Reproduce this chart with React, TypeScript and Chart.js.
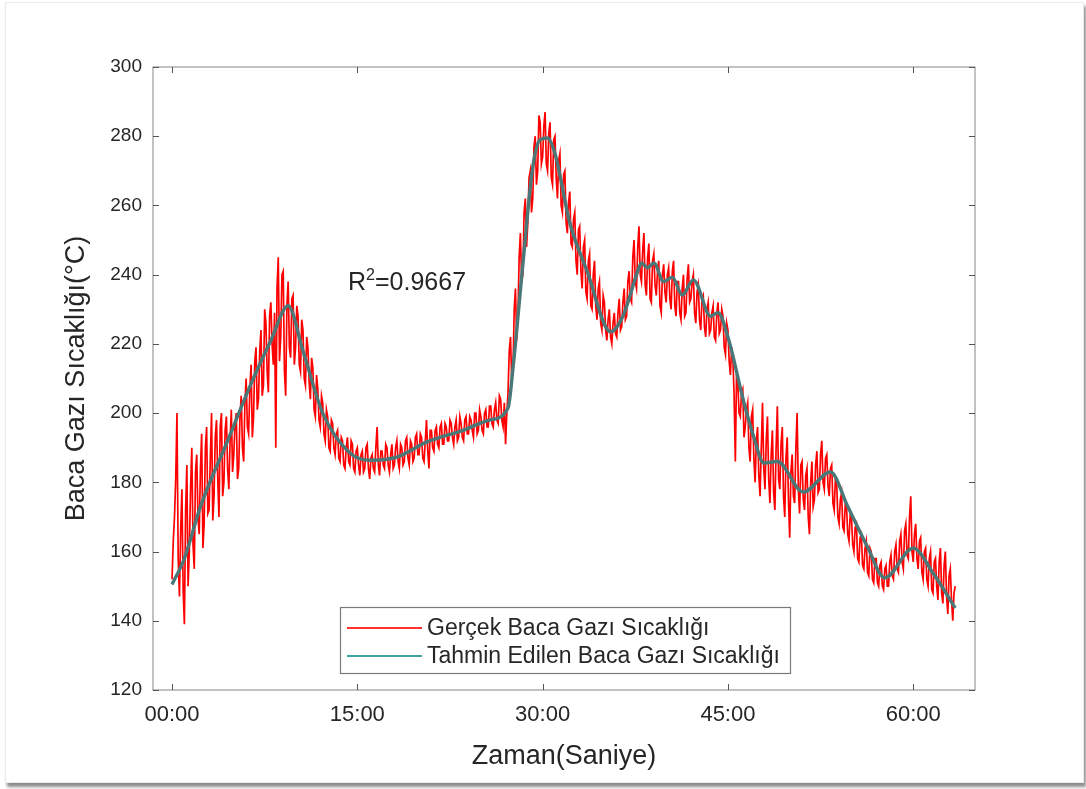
import React, { useEffect, useRef } from "react";
import { Chart, registerables } from "chart.js";

Chart.register(...registerables);

// ---------- data ----------
// measured flue-gas temperature, one sample every 0.1 min (rows = one minute)
const SAMPLE_STEP_MIN = 0.1;
const actualTemps: number[] = [
  152, 163, 170, 181, 200, 158, 147, 166, 178, 149,
  139, 172, 185, 150, 160, 178, 190, 162, 155, 183,
  188, 170, 165, 184, 194, 161, 168, 190, 196, 171,
  172, 187, 200, 169, 176, 193, 198, 181, 170, 196,
  200, 176, 180, 195, 199, 184, 178, 192, 201, 183,
  188, 197, 200, 181, 184, 199, 205, 190, 186, 203,
  210, 196, 194, 207, 214, 193, 199, 215, 219, 201,
  204, 218, 224, 205, 208, 230, 226, 212, 206, 228,
  232, 220, 214, 229, 190, 236, 245, 215, 222, 240,
  241, 212, 205, 231, 238, 219, 216, 233, 234, 214,
  219, 231, 228, 214, 212, 227, 224, 210, 208, 222,
  219, 209, 204, 216, 213, 201, 199, 211, 207, 198,
  196, 205, 203, 194, 192, 201, 199, 190, 189, 198,
  197, 190, 188, 194, 195, 187, 186, 193, 192, 185,
  184, 190, 193, 186, 185, 192, 191, 184, 183, 189,
  190, 185, 182, 188, 189, 183, 184, 190, 191, 184,
  181, 187, 188, 184, 183, 190, 196, 185, 182, 189,
  189, 185, 184, 191, 190, 185, 183, 188, 191, 184,
  185, 190, 192, 186, 184, 191, 190, 185, 186, 192,
  193, 187, 185, 192, 191, 186, 187, 193, 194, 188,
  188, 194, 193, 187, 186, 192, 198, 189, 184, 195,
  195, 190, 189, 195, 196, 191, 190, 196, 197, 191,
  191, 197, 196, 192, 192, 198, 197, 193, 191, 196,
  198, 192, 193, 199, 197, 193, 192, 198, 199, 194,
  194, 199, 198, 195, 193, 200, 200, 194, 195, 201,
  199, 195, 194, 200, 201, 196, 196, 202, 202, 197,
  196, 201, 203, 198, 197, 205, 204, 198, 196, 203,
  191, 200, 206, 218, 222, 209, 212, 230, 236, 221,
  228, 245, 252, 238, 240, 258, 262, 248, 255, 268,
  270, 258, 262, 277, 280, 266, 270, 286, 284, 272,
  274, 283, 287, 272, 270, 281, 284, 268, 266, 279,
  280, 268, 262, 273, 275, 260, 258, 269, 270, 255,
  252, 261, 264, 249, 248, 256, 258, 244, 240, 253,
  254, 241, 236, 248, 250, 235, 233, 244, 246, 231,
  230, 240, 244, 231, 227, 236, 238, 226, 224, 234,
  232, 224, 221, 227, 230, 222, 220, 226, 229, 223,
  222, 229, 233, 224, 225, 232, 236, 227, 228, 238,
  241, 233, 232, 245, 250, 238, 236, 248, 254, 240,
  238, 247, 252, 237, 234, 245, 249, 233, 232, 244,
  246, 237, 234, 241, 244, 231, 229, 240, 243, 235,
  232, 240, 242, 233, 230, 241, 244, 231, 228, 238,
  238, 229, 227, 236, 240, 228, 229, 239, 243, 232,
  233, 238, 240, 229, 226, 235, 237, 227, 224, 233,
  234, 225, 222, 230, 232, 223, 224, 229, 231, 222,
  221, 229, 232, 223, 224, 230, 228, 219, 217, 226,
  224, 215, 211, 219, 216, 205, 186, 212, 209, 200,
  199, 206, 207, 193, 196, 201, 203, 190, 186, 199,
  201, 187, 180, 192, 196, 182, 176, 190, 203, 184,
  178, 192, 199, 181, 174, 188, 195, 177, 172, 190,
  202, 181, 178, 191, 196, 176, 170, 187, 193, 175,
  164, 183, 188, 176, 174, 190, 200, 178, 171, 185,
  186, 175, 172, 182, 184, 170, 165, 180, 186, 173,
  175, 185, 189, 177, 178, 188, 192, 180, 178, 187,
  188, 179, 176, 184, 185, 174, 172, 181, 180, 170,
  168, 175, 177, 167, 166, 174, 173, 165, 163, 171,
  170, 162, 160, 167, 168, 158, 157, 164, 165, 156,
  155, 161, 163, 154, 153, 161, 160, 152, 151, 158,
  158, 151, 150, 156, 157, 150, 149, 155, 156, 150,
  150, 157, 159, 153, 152, 160, 162, 155, 154, 163,
  165, 157, 155, 166, 168, 159, 158, 170, 176, 160,
  157, 165, 168, 158, 155, 163, 164, 154, 152, 160,
  161, 152, 150, 158, 160, 149, 148, 157, 158, 150,
  146, 157, 161, 148, 145, 156, 160, 147, 142, 153,
  155, 146, 140, 148, 150,
];

// predicted flue-gas temperature (minutes, °C)
const predTimes: number[] = [
  0, 1, 2.3, 4.5, 6.4, 8.0, 9.4, 10.6, 12.2, 14.4, 16.1, 18.2, 20.6, 23.6, 25.7,
  27.2, 27.6, 28.4, 29.2, 29.8, 30.4, 31.0, 32.2, 33.6, 35.5, 36.5, 37.7, 38.0,
  38.5, 39.0, 39.8, 40.5, 41.3, 42.2, 43.6, 44.2, 45.0, 46.3, 47.1, 47.9, 49.0,
  51.1, 53.3, 54.7, 56.3, 57.7, 60.0, 61.6, 63.4,
];
const predTemps: number[] = [
  150.5, 158, 173, 192, 208.5, 221, 231, 218, 200, 188.5, 186.4, 187.3, 191.6,
  195.1, 198, 201.5, 213, 243, 271, 279, 279.5, 275, 255, 241, 223.5, 228, 241,
  243.4, 242, 243.4, 238, 239.3, 234.1, 238.5, 228, 229, 222, 203, 193, 185.6,
  186, 177.2, 183, 173, 161.3, 152.4, 161, 153.8, 143.7,
];

const xTickValues: number[] = [0, 15, 30, 45, 60];
const xTickLabels: string[] = ["00:00", "15:00", "30:00", "45:00", "60:00"];
const yTickValues: number[] = [120, 140, 160, 180, 200, 220, 240, 260, 280, 300];
const seriesLabels: string[] = [
  "Gerçek Baca Gazı Sıcaklığı",
  "Tahmin Edilen Baca Gazı Sıcaklığı",
];
const xAxisTitle = "Zaman(Saniye)";
const yAxisTitle = "Baca Gazı Sıcaklığı(°C)";
const r2Value = "0.9667";
const r2AnchorX = 14.25; // minutes
const r2AnchorY = 235.6; // °C (baseline)

// ---------- style ----------
const FONT = "'Liberation Sans', Arial, Helvetica, sans-serif";
const TEXT = "#262626";
const RED = "#ff0000";
const TEAL_PLOT = "#4a7878";
const TEAL_LEGEND = "#3fa3a3";

const actualPoints = actualTemps.map((v, i) => ({ x: i * SAMPLE_STEP_MIN, y: v }));
const predPoints = predTimes.map((t, i) => ({ x: t, y: predTemps[i] }));

const matlabDecor = {
  id: "matlabDecor",
  afterDatasetsDraw(chart: any) {
    const { ctx, chartArea: a, scales } = chart;
    const xs = scales.x;
    const ys = scales.y;
    ctx.save();
    // box
    ctx.strokeStyle = "#9a9a9a";
    ctx.lineWidth = 1.2;
    ctx.strokeRect(a.left, a.top, a.right - a.left, a.bottom - a.top);
    // inward ticks on all sides
    ctx.strokeStyle = "#555";
    ctx.lineWidth = 1;
    const tl = 6;
    ctx.beginPath();
    xTickValues.forEach((v) => {
      const px = Math.round(xs.getPixelForValue(v)) + 0.5;
      ctx.moveTo(px, a.bottom);
      ctx.lineTo(px, a.bottom - tl);
      ctx.moveTo(px, a.top);
      ctx.lineTo(px, a.top + tl);
    });
    yTickValues.forEach((v) => {
      const py = Math.round(ys.getPixelForValue(v)) + 0.5;
      ctx.moveTo(a.left, py);
      ctx.lineTo(a.left + tl, py);
      ctx.moveTo(a.right, py);
      ctx.lineTo(a.right - tl, py);
    });
    ctx.stroke();

    // axis titles
    ctx.fillStyle = TEXT;
    ctx.font = `27px ${FONT}`;
    ctx.textAlign = "center";
    ctx.textBaseline = "middle";
    ctx.fillText(xAxisTitle, (a.left + a.right) / 2, 757);
    ctx.save();
    ctx.translate(77, (a.top + a.bottom) / 2);
    ctx.rotate(-Math.PI / 2);
    ctx.fillText(yAxisTitle, 0, 0);
    ctx.restore();

    // R^2 annotation
    const rx = xs.getPixelForValue(r2AnchorX);
    const ry = ys.getPixelForValue(r2AnchorY);
    ctx.textAlign = "left";
    ctx.textBaseline = "alphabetic";
    ctx.font = `25px ${FONT}`;
    ctx.fillText("R", rx, ry);
    let cx = rx + ctx.measureText("R").width;
    ctx.font = `16px ${FONT}`;
    ctx.fillText("2", cx, ry - 10);
    cx += ctx.measureText("2").width;
    ctx.font = `25px ${FONT}`;
    ctx.fillText("=" + r2Value, cx, ry);

    // legend
    const lx = 340, ly = 607, lw = 450, lh = 66;
    ctx.fillStyle = "#ffffff";
    ctx.fillRect(lx, ly, lw, lh);
    ctx.strokeStyle = "#7a7a7a";
    ctx.lineWidth = 1.2;
    ctx.strokeRect(lx + 0.5, ly + 0.5, lw, lh);
    const rows = [
      { color: "#ff3030", label: seriesLabels[0], y: ly + 21 },
      { color: TEAL_LEGEND, label: seriesLabels[1], y: ly + 49 },
    ];
    ctx.font = `23px ${FONT}`;
    ctx.textBaseline = "middle";
    rows.forEach((r) => {
      ctx.strokeStyle = r.color;
      ctx.lineWidth = 2.2;
      ctx.beginPath();
      ctx.moveTo(lx + 7, r.y);
      ctx.lineTo(lx + 82, r.y);
      ctx.stroke();
      ctx.fillStyle = TEXT;
      ctx.fillText(r.label, lx + 87, r.y + 1);
    });
    ctx.restore();
  },
};

function FlueGasChart() {
  const ref = useRef<HTMLCanvasElement | null>(null);
  useEffect(() => {
    if (!ref.current) return;
    const chart = new Chart(ref.current, {
      type: "line",
      data: {
        datasets: [
          {
            label: seriesLabels[1],
            data: predPoints,
            borderColor: TEAL_PLOT,
            borderWidth: 3.4,
            pointRadius: 0,
            cubicInterpolationMode: "monotone",
            order: 0,
          },
          {
            label: seriesLabels[0],
            data: actualPoints,
            borderColor: RED,
            borderWidth: 1.7,
            pointRadius: 0,
            tension: 0,
            order: 1,
          },
        ],
      },
      options: {
        animation: false,
        responsive: false,
        parsing: false as any,
        layout: { padding: { left: 0, top: 67, right: 111, bottom: 0 } },
        plugins: { legend: { display: false }, tooltip: { enabled: false } },
        scales: {
          x: {
            type: "linear",
            min: -1.54,
            max: 65,
            grid: { display: false, drawTicks: false },
            border: { display: false },
            afterBuildTicks: (s: any) => {
              s.ticks = xTickValues.map((v) => ({ value: v }));
            },
            afterFit: (s: any) => {
              s.height = 99;
            },
            ticks: {
              padding: 12,
              color: TEXT,
              font: { family: FONT, size: 22 },
              maxRotation: 0,
              callback: (v: any) => {
                const i = xTickValues.indexOf(Number(v));
                return i >= 0 ? xTickLabels[i] : "";
              },
            },
          },
          y: {
            type: "linear",
            min: 120,
            max: 300,
            grid: { display: false, drawTicks: false },
            border: { display: false },
            afterBuildTicks: (s: any) => {
              s.ticks = yTickValues.map((v) => ({ value: v }));
            },
            afterFit: (s: any) => {
              s.width = 153;
            },
            ticks: {
              padding: 11,
              color: TEXT,
              font: { family: FONT, size: 19 },
            },
          },
        },
      },
      plugins: [matlabDecor],
    });
    return () => chart.destroy();
  }, []);
  return <canvas ref={ref} width={1086} height={789} style={{ position: "absolute", left: 0, top: 0 }} />;
}

export default function App() {
  return (
    <div style={{ position: "fixed", left: 0, top: 0, width: 1086, height: 789, background: "#ffffff", overflow: "hidden" }}>
      <div
        style={{
          position: "absolute",
          left: 5,
          top: 2,
          width: 1077,
          height: 779,
          background: "#ffffff",
          border: "1px solid #ececec",
          boxShadow: "2px 4px 3px rgba(0,0,0,0.45)",
        }}
      />
      <FlueGasChart />
    </div>
  );
}
